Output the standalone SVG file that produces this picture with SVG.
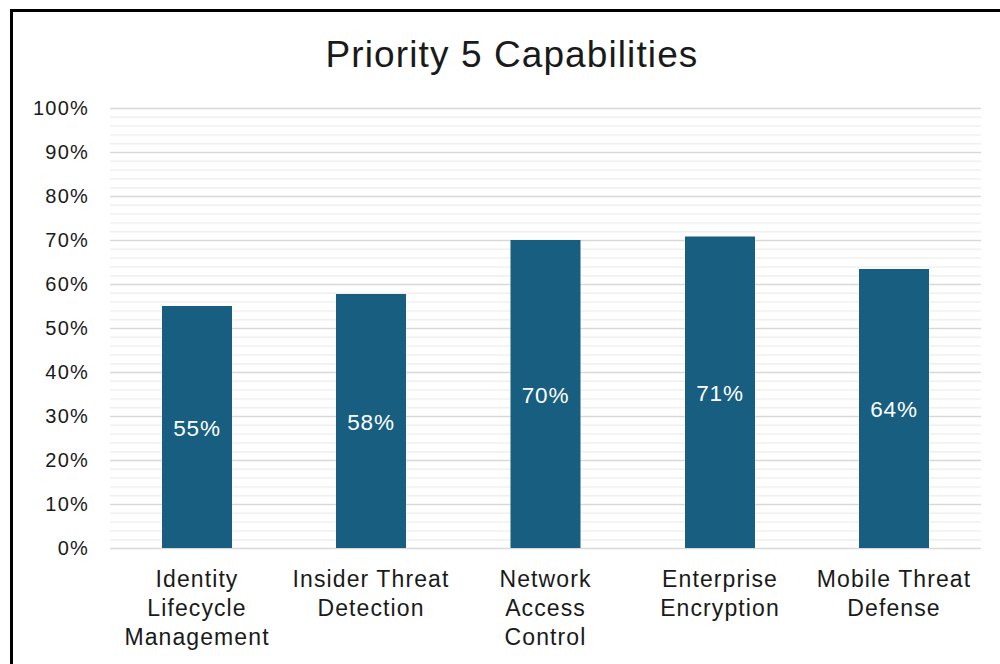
<svg xmlns="http://www.w3.org/2000/svg" width="1000" height="664" viewBox="0 0 1000 664">
  <style>
    text { font-family: "Liberation Sans", Arial, sans-serif; fill: #1a1a1a; }
    .title { font-size: 37px; letter-spacing: 1.1px; text-anchor: middle; }
    .ytick { font-size: 20px; letter-spacing: 1.2px; text-anchor: end; }
    .cat { font-size: 23px; letter-spacing: 1.1px; text-anchor: middle; }
    .val { font-size: 22.5px; letter-spacing: 0.8px; text-anchor: middle; fill: #ffffff; }
    .major { stroke: #d9d9d9; stroke-width: 1.5; }
    .minor { stroke: #f0f0f0; stroke-width: 1.5; }
    .bar { fill: #175e80; }
  </style>
  <rect x="0" y="0" width="1000" height="664" fill="#ffffff"/>
  <!-- chart frame -->
  <rect x="11.5" y="10.5" width="1000" height="700" fill="none" stroke="#000000" stroke-width="3"/>

  <text class="title" x="512" y="67">Priority 5 Capabilities</text>

  <!-- gridlines: minor every 2%, major every 10% -->
  <g id="gridlines">
    <g class="minor">
      <line x1="110" x2="981" y1="117.3" y2="117.3"/><line x1="110" x2="981" y1="126.1" y2="126.1"/><line x1="110" x2="981" y1="134.9" y2="134.9"/><line x1="110" x2="981" y1="143.7" y2="143.7"/>
      <line x1="110" x2="981" y1="161.3" y2="161.3"/><line x1="110" x2="981" y1="170.1" y2="170.1"/><line x1="110" x2="981" y1="178.9" y2="178.9"/><line x1="110" x2="981" y1="187.7" y2="187.7"/>
      <line x1="110" x2="981" y1="205.3" y2="205.3"/><line x1="110" x2="981" y1="214.1" y2="214.1"/><line x1="110" x2="981" y1="222.9" y2="222.9"/><line x1="110" x2="981" y1="231.7" y2="231.7"/>
      <line x1="110" x2="981" y1="249.3" y2="249.3"/><line x1="110" x2="981" y1="258.1" y2="258.1"/><line x1="110" x2="981" y1="266.9" y2="266.9"/><line x1="110" x2="981" y1="275.7" y2="275.7"/>
      <line x1="110" x2="981" y1="293.3" y2="293.3"/><line x1="110" x2="981" y1="302.1" y2="302.1"/><line x1="110" x2="981" y1="310.9" y2="310.9"/><line x1="110" x2="981" y1="319.7" y2="319.7"/>
      <line x1="110" x2="981" y1="337.3" y2="337.3"/><line x1="110" x2="981" y1="346.1" y2="346.1"/><line x1="110" x2="981" y1="354.9" y2="354.9"/><line x1="110" x2="981" y1="363.7" y2="363.7"/>
      <line x1="110" x2="981" y1="381.3" y2="381.3"/><line x1="110" x2="981" y1="390.1" y2="390.1"/><line x1="110" x2="981" y1="398.9" y2="398.9"/><line x1="110" x2="981" y1="407.7" y2="407.7"/>
      <line x1="110" x2="981" y1="425.3" y2="425.3"/><line x1="110" x2="981" y1="434.1" y2="434.1"/><line x1="110" x2="981" y1="442.9" y2="442.9"/><line x1="110" x2="981" y1="451.7" y2="451.7"/>
      <line x1="110" x2="981" y1="469.3" y2="469.3"/><line x1="110" x2="981" y1="478.1" y2="478.1"/><line x1="110" x2="981" y1="486.9" y2="486.9"/><line x1="110" x2="981" y1="495.7" y2="495.7"/>
      <line x1="110" x2="981" y1="513.3" y2="513.3"/><line x1="110" x2="981" y1="522.1" y2="522.1"/><line x1="110" x2="981" y1="530.9" y2="530.9"/><line x1="110" x2="981" y1="539.7" y2="539.7"/>
    </g>
    <g class="major">
      <line x1="110" x2="981" y1="108.5" y2="108.5"/><line x1="110" x2="981" y1="152.5" y2="152.5"/><line x1="110" x2="981" y1="196.5" y2="196.5"/>
      <line x1="110" x2="981" y1="240.5" y2="240.5"/><line x1="110" x2="981" y1="284.5" y2="284.5"/><line x1="110" x2="981" y1="328.5" y2="328.5"/>
      <line x1="110" x2="981" y1="372.5" y2="372.5"/><line x1="110" x2="981" y1="416.5" y2="416.5"/><line x1="110" x2="981" y1="460.5" y2="460.5"/>
      <line x1="110" x2="981" y1="504.5" y2="504.5"/><line x1="110" x2="981" y1="548.5" y2="548.5"/>
    </g>
  </g>

  <!-- value axis labels -->
  <g id="y-axis">
    <text class="ytick" x="89" y="115">100%</text>
    <text class="ytick" x="89" y="159">90%</text>
    <text class="ytick" x="89" y="203">80%</text>
    <text class="ytick" x="89" y="247">70%</text>
    <text class="ytick" x="89" y="291">60%</text>
    <text class="ytick" x="89" y="335">50%</text>
    <text class="ytick" x="89" y="379">40%</text>
    <text class="ytick" x="89" y="423">30%</text>
    <text class="ytick" x="89" y="467">20%</text>
    <text class="ytick" x="89" y="511">10%</text>
    <text class="ytick" x="89" y="555">0%</text>
  </g>

  <!-- bars -->
  <g id="bar-identity">
    <rect class="bar" x="162" y="306" width="70" height="242"/>
    <text class="val" x="197" y="436">55%</text>
    <text class="cat" x="197" y="587">Identity</text>
    <text class="cat" x="197" y="616">Lifecycle</text>
    <text class="cat" x="197" y="645">Management</text>
  </g>
  <g id="bar-insider">
    <rect class="bar" x="336" y="294" width="70" height="254"/>
    <text class="val" x="371" y="430">58%</text>
    <text class="cat" x="371" y="587">Insider Threat</text>
    <text class="cat" x="371" y="616">Detection</text>
  </g>
  <g id="bar-nac">
    <rect class="bar" x="510.5" y="240" width="70" height="308"/>
    <text class="val" x="545.5" y="403">70%</text>
    <text class="cat" x="545.5" y="587">Network</text>
    <text class="cat" x="545.5" y="616">Access</text>
    <text class="cat" x="545.5" y="645">Control</text>
  </g>
  <g id="bar-encryption">
    <rect class="bar" x="685" y="236.5" width="70" height="311.5"/>
    <text class="val" x="720" y="401">71%</text>
    <text class="cat" x="720" y="587">Enterprise</text>
    <text class="cat" x="720" y="616">Encryption</text>
  </g>
  <g id="bar-mobile">
    <rect class="bar" x="859" y="269" width="70" height="279"/>
    <text class="val" x="894" y="417">64%</text>
    <text class="cat" x="894" y="587">Mobile Threat</text>
    <text class="cat" x="894" y="616">Defense</text>
  </g>
</svg>
